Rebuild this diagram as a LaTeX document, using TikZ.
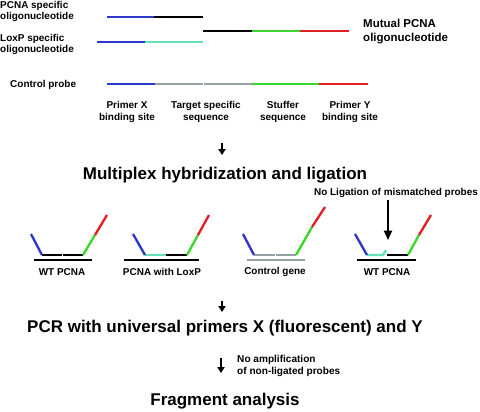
\documentclass[tikz,border=0pt]{standalone}
\usepackage{fontspec}
\setmainfont{Liberation Sans}
\usetikzlibrary{arrows.meta}
\definecolor{probeblue}{RGB}{45, 55, 200}
\definecolor{probegreen}{RGB}{60, 215, 45}
\definecolor{probered}{RGB}{225, 30, 35}
\definecolor{probecyan}{RGB}{100, 225, 185}
\definecolor{probegray}{RGB}{150, 160, 165}

\begin{document}
\begin{tikzpicture}[x=0.03cm, y=-0.03cm,
  seg/.style={line width=2pt},
  base/.style={line width=2.3pt},
  lbl/.style={font=\fontsize{8.5}{10}\selectfont\bfseries, align=center, inner sep=0pt},
  note/.style={font=\fontsize{8.6}{10.8}\selectfont\bfseries, align=left, inner sep=0pt},
  big/.style={font=\fontsize{14.5}{16}\selectfont\bfseries, inner sep=0pt},
  arr/.style={-{Triangle[length=5pt, width=6pt]}, line width=1.3pt},
  bigarr/.style={-{Triangle[length=8pt, width=7pt]}, line width=1.4pt}]
  \useasboundingbox (0,0) rectangle (480,411);

  % Probes
  \node[lbl, align=left, anchor=west] (pcnaspec) at (0,11.5) {PCNA specific\\oligonucleotide};
  \node[lbl, align=left, anchor=west] (loxpspec) at (0,44.5) {LoxP specific\\oligonucleotide};
  \node[lbl, anchor=west] (ctrlprobe) at (10,85) {Control probe};
  \node[font=\fontsize{9.8}{12}\selectfont\bfseries, align=left, anchor=west, inner sep=0pt] (mutual) at (363,32) {Mutual PCNA\\oligonucleotide};

  \draw[seg, probeblue] (107,17) -- (154,17);
  \draw[seg] (154,17) -- (203,17);

  \draw[seg] (203,31) -- (252,31);
  \draw[seg, probegreen] (252,31) -- (300,31);
  \draw[seg, probered] (300,31) -- (349,31);

  \draw[seg, probeblue] (97,42) -- (145,42);
  \draw[seg, probecyan] (145,42) -- (203,42);

  \draw[seg, probeblue] (107,84) -- (155,84);
  \draw[seg, probegray] (155,84) -- (202.5,84);
  \draw[seg, probegray] (204,84) -- (252,84);
  \draw[seg, probegreen] (252,84) -- (319,84);
  \draw[seg, probered] (319,84) -- (368,84);

  \node[lbl] (primx) at (127,112) {Primer X\\binding site};
  \node[lbl] (target) at (206,112) {Target specific\\sequence};
  \node[lbl] (stuffer) at (283,112) {Stuffer\\sequence};
  \node[lbl] (primy) at (350,112) {Primer Y\\binding site};

  \coordinate (a1top) at (222,143);
  \coordinate (a1tip) at (222,155);
  \draw[arr] (a1top) -- (a1tip);

  \node[big] (hybrid) at (225,175) {Multiplex hybridization and ligation};
  \node[lbl] (nolig) at (396,193) {No Ligation of mismatched probes};

  % WT PCNA
  \draw[base] (34,260) -- (92,260);
  \draw[seg] (42,255) -- (61.5,255);
  \draw[seg] (62.5,255) -- (83,255);
  \draw[seg, probeblue] (42,255) -- (31,234);
  \draw[seg, probegreen] (83,255) -- (95,235);
  \draw[seg, probered] (95,235) -- (107,215);
  \node[lbl] (wt1) at (62,272) {WT PCNA};

  % PCNA with LoxP
  \draw[base] (124,260) -- (199,260);
  \draw[seg, probecyan] (145,255) -- (166,255);
  \draw[seg] (166,255) -- (187,255);
  \draw[seg, probeblue] (145,255) -- (133,234);
  \draw[seg, probegreen] (187,255) -- (198,235);
  \draw[seg, probered] (198,235) -- (209,215);
  \node[lbl] (loxp) at (162,272) {PCNA with LoxP};

  % Control gene
  \draw[base, probegray] (247,260) -- (305,260);
  \draw[seg, probegray] (254,255) -- (274.5,255);
  \draw[seg, probegray] (275.5,255) -- (296,255);
  \draw[seg, probeblue] (254,255) -- (243,234);
  \draw[seg, probegreen] (296,255) -- (312,227);
  \draw[seg, probered] (312,227) -- (325,207);
  \node[lbl] (ctrl) at (275,272) {Control gene};

  % Mismatch
  \draw[base] (357,260) -- (416,260);
  \draw[seg, probecyan] (367,255) -- (383,255) -- (386,250);
  \draw[seg] (387,255) -- (408,255);
  \draw[seg, probeblue] (367,255) -- (355,234);
  \draw[seg, probegreen] (408,255) -- (419,235);
  \draw[seg, probered] (419,235) -- (431,215);
  \node[lbl] (wt2) at (387,272) {WT PCNA};
  \coordinate (ligtop) at (388,200);
  \coordinate (ligtip) at (388,240);
  \draw[bigarr] (ligtop) -- (ligtip);

  % PCR and analysis
  \coordinate (a2top) at (222,301);
  \coordinate (a2tip) at (222,312);
  \draw[arr] (a2top) -- (a2tip);
  \node[big] (pcr) at (225,328) {PCR with universal primers X (fluorescent) and Y};

  \coordinate (a3top) at (221,358);
  \coordinate (a3tip) at (221,373);
  \draw[arr] (a3top) -- (a3tip);
  \node[note, anchor=west] (noamp) at (237,366) {No amplification\\of non-ligated probes};

  \node[big] (frag) at (225,401) {Fragment analysis};
\end{tikzpicture}
\end{document}
